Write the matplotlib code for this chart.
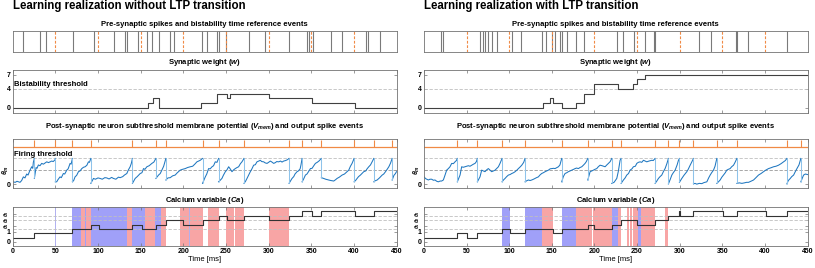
import numpy as np
import matplotlib
matplotlib.use("Agg")
import matplotlib.pyplot as plt

plt.rcParams["font.family"] = ["Liberation Sans", "DejaVu Sans"]
plt.rcParams["font.weight"] = "bold"
plt.rcParams["mathtext.fontset"] = "custom"
plt.rcParams["mathtext.it"] = "Liberation Sans:italic:bold"
plt.rcParams["mathtext.rm"] = "Liberation Sans:bold"
plt.rcParams["mathtext.bf"] = "Liberation Sans:bold"

T_END = 450
BIST_EVENTS = [50, 100, 150, 200, 250, 300, 350, 400]
THETA_M = 0.54
V_THR = 1.0

# ---------------- left: without LTP transition ----------------
PRE_L = [12.5, 31.7, 39.1, 70.4, 95.8, 119.3, 131.8, 133.8, 146.7, 158, 163.9,
         171.4, 185, 189.7, 221.4, 227.7, 239.5, 242.2, 250.4, 276.6, 296.2,
         323.6, 345.1, 347, 351.7, 373.7, 386.2, 414, 416.8, 431.2]
POST_L = [25.4, 50, 70, 91.6, 140.4, 167.9, 179.6, 222.6, 241.4, 271.2, 324,
          339.3, 361.9, 400.3, 423.4, 444.9]
W_L_T = [0, 158.4, 164.3, 171, 221, 239.5, 251.2, 255, 300, 351, 401]
W_L_V = [0, 1, 2, 0, 1, 3, 2, 3, 2, 1, 0]
CA_L_T = [0, 25.4, 70, 91.6, 101.4, 140.4, 151.4, 167.9, 179.6, 200, 222.6,
          241.4, 251, 271.2, 300, 324, 339.3, 351, 361.9, 401, 423.4]
CA_L_V = [1, 2, 3, 4, 3, 4, 3, 4, 5, 4, 5, 6, 5, 6, 5, 6, 7, 6, 7, 6, 7]
LTD_L = [(70, 80.2), (84.5, 85.7), (91.6, 134.2), (140.4, 155.3), (167.1, 174.1)]
LTP_L = [(80.2, 84.5), (85.7, 91.6), (134.2, 140.4), (155.3, 167.1), (174.1, 179.6),
         (196.4, 222.6), (228.5, 241.8), (250.4, 259), (260.2, 271.2), (300.1, 324)]
LTD_LINES_L = [50, 206.6]

VM_L_T = [0, 3, 5, 8.6, 10.5, 12.5, 14.4, 16.4, 18, 20.3, 22.3, 23.5, 24.2, 25.4,
          25.4, 27.4, 28.5, 30.1, 32, 34, 36, 39.9, 42, 45.7, 47.5, 49.7, 50,
          50, 51.6, 53, 55.5, 57, 59.4, 61, 63.4, 65, 67.3, 68.5, 70,
          70, 71.5, 73.1, 75, 77.1, 79, 81, 83, 84.9, 87, 88.8, 90, 91.6,
          91.6, 94.7, 97, 100, 102.5, 105, 108, 110.3, 113, 116, 118.1, 121, 124,
          126, 129, 131, 133.8, 135.5, 137.7, 139, 140.4,
          140.4, 143.6, 146, 149.5, 151.5, 153.4, 155, 157.3, 160, 163.2, 165.5, 167.9,
          167.9, 171, 173, 174.9, 177, 179.6,
          179.6, 182, 184.7, 187.5, 190.5, 193, 196.4, 199, 202.3, 205, 208.2, 211,
          213.5, 216, 218, 219.9, 222.6,
          222.6, 225.8, 227.5, 229.7, 231.5, 233.7, 235.5, 237.5, 239.5, 241.4,
          241.4, 243, 245.3, 247, 249.3, 251, 253.2, 255, 257.1, 259, 261, 263,
          264.9, 267, 268.8, 271.2,
          271.2, 273, 274.7, 276.5, 278.6, 280.5, 282.5, 284.5, 286.4, 288.5, 290.3,
          292, 294.3, 296, 298.2, 300, 302.1, 304, 306, 308, 309.5, 311.9, 314,
          315.8, 317.7, 320, 322, 324,
          324, 325.5, 327.5, 329.5, 331, 333.4, 335, 337, 338, 339.3,
          339.3, 341, 343.2, 345, 347, 349.1, 351, 353, 354.9, 357, 359, 361.9,
          361.9, 364.6, 367, 370.5, 373, 376.4, 378.5, 380.3, 383, 386.2, 389, 392,
          394, 396, 397.9, 400.3,
          400.3, 402, 403.8, 405.5, 407.7, 409.5, 411.6, 414, 415.5, 417.5, 419.5,
          421.4, 423.4,
          423.4, 425, 427.3, 430, 433.2, 435, 437.1, 439, 441, 443, 444.9,
          444.9, 447, 448.8, 450]
VM_L_V = [0.10, 0.08, 0.12, 0.08, 0.15, 0.29, 0.25, 0.40, 0.36, 0.55, 0.68, 0.62, 0.85, 1.0,
          0.23, 0.65, 0.62, 0.75, 0.72, 0.81, 0.78, 0.87, 0.84, 0.90, 0.88, 0.95, 1.0,
          0.10, 0.10, 0.18, 0.29, 0.26, 0.42, 0.40, 0.55, 0.60, 0.81, 0.78, 1.0,
          0.10, 0.15, 0.29, 0.35, 0.49, 0.52, 0.61, 0.66, 0.68, 0.74, 0.87, 0.85, 1.0,
          0.04, 0.23, 0.20, 0.25, 0.23, 0.20, 0.26, 0.25, 0.21, 0.27, 0.23, 0.20, 0.28,
          0.26, 0.30, 0.36, 0.42, 0.55, 0.68, 0.80, 1.0,
          0.04, 0.23, 0.30, 0.42, 0.45, 0.61, 0.58, 0.68, 0.72, 0.81, 0.86, 1.0,
          0.23, 0.36, 0.42, 0.55, 0.70, 1.0,
          0.17, 0.25, 0.26, 0.33, 0.36, 0.45, 0.55, 0.58, 0.61, 0.65, 0.68, 0.70,
          0.78, 0.87, 0.90, 0.93, 1.0,
          0.04, 0.29, 0.40, 0.61, 0.60, 0.68, 0.72, 0.87, 0.85, 1.0,
          0.10, 0.15, 0.23, 0.35, 0.49, 0.55, 0.68, 0.60, 0.49, 0.56, 0.61, 0.65,
          0.68, 0.80, 0.87, 1.0,
          0.04, 0.12, 0.23, 0.35, 0.49, 0.60, 0.74, 0.76, 0.87, 0.90, 0.93,
          0.88, 0.87, 0.83, 0.81, 0.85, 0.90, 0.86, 0.81, 0.84, 0.88, 0.87, 0.90,
          0.86, 0.90, 0.92, 0.95, 1.0,
          0.04, 0.12, 0.23, 0.30, 0.40, 0.49, 0.52, 0.60, 0.75, 1.0,
          0.10, 0.20, 0.36, 0.40, 0.50, 0.61, 0.62, 0.72, 0.81, 0.85, 0.90, 1.0,
          0.26, 0.23, 0.20, 0.17, 0.15, 0.13, 0.18, 0.23, 0.28, 0.36, 0.40, 0.49,
          0.55, 0.70, 0.81, 1.0,
          0.10, 0.15, 0.23, 0.30, 0.36, 0.42, 0.49, 0.52, 0.60, 0.68, 0.75,
          0.87, 1.0,
          0.10, 0.14, 0.17, 0.25, 0.36, 0.40, 0.49, 0.58, 0.68, 0.82, 1.0,
          0.17, 0.35, 0.42, 0.49]

# ---------------- right: with LTP transition ----------------
PRE_R = [20.4, 22.7, 65.4, 69.6, 71.2, 74.8, 79.8, 85.3, 103.7, 113.9, 138.5,
         143.6, 150.7, 153.4, 160.1, 162, 167.9, 178.8, 187.5, 226.6, 233.2,
         246.2, 259.8, 270, 271.6, 323.2, 336.9, 366.3, 367.8, 380, 425.8]
POST_R = [39.1, 62.6, 91.6, 118.6, 161.6, 192.2, 220.3, 231.3, 271.2, 286.8,
          299.7, 316.2, 343.6, 367.1, 425.8, 442.2]
W_R_T = [0, 139.3, 148, 151, 162.4, 178.4, 187.8, 200, 228, 245.7, 250.4, 259.5]
W_R_V = [0, 1, 2, 1, 0, 1, 3, 5, 4, 5, 6, 7]
CA_R_T = [0, 39.1, 50.1, 62.6, 91.6, 101, 118.6, 151, 161.6, 192.2, 199.6, 220.3,
          231.3, 249.7, 271.2, 286.8, 299.7, 300.6, 316.2, 350.7, 367.1, 401.5, 425.8]
CA_R_V = [1, 2, 1, 2, 3, 2, 3, 2, 3, 4, 3, 4, 5, 4, 5, 6, 7, 6, 7, 6, 7, 6, 7]
LTD_R = [(91.6, 101), (118.6, 138.9), (161.6, 178.1), (220.3, 228.1), (251.6, 254.7)]
LTP_R = [(138.9, 151.1), (178.1, 196.8), (198, 220.3), (228.1, 231.3), (238, 240.7),
         (241.8, 244.6), (245.7, 251.6), (254.7, 271.2), (283, 286.8)]
LTD_LINES_R = []

VM_R_T = [0, 2, 5.1, 7, 9, 11, 12.9, 15, 16.8, 19, 20.7, 22.7, 24.7, 26.6, 28.6,
          30.5, 32.5, 34.5, 36.4, 38, 39.1,
          39.1, 42.3, 44.2, 46, 48.1, 50, 52.1, 54, 56, 58, 59.9, 61.5, 62.6,
          62.6, 65.7, 67.7, 69.5, 71.6, 73.5, 75.5, 77.5, 79.4, 81.5, 83.4, 85.5,
          87.3, 89.2, 91.6,
          91.6, 93.5, 95.1, 97, 99, 101, 103, 105, 106.9, 109, 110.8, 113, 114.7,
          117, 118.6,
          118.6, 120.5, 122.5, 124.5, 126.4, 128.5, 130.3, 132, 134.2, 136, 138.1,
          140, 142.1, 144, 146, 148, 149.9, 152, 153.8, 156, 157.7, 159.5, 161.6,
          161.6, 163.5, 165.5, 167.5, 169.4, 171.5, 173.4, 175.5, 177.3, 179, 181.2,
          183, 185.1, 187, 189, 190.5, 192.2,
          192.2, 194.9, 197, 198.8, 200.5, 202.7, 204.5, 206.6, 209, 212.5, 214.5,
          216.4, 218.5, 220.3,
          220.3, 223, 226.2, 228, 230.1, 231.3,
          231.3, 234, 236, 237.9, 240, 241.8, 244, 245.7, 248, 249.7, 251.5, 253.6,
          255.5, 257.5, 259.5, 261.4, 264, 267.3, 269, 271.2,
          271.2, 273, 275.1, 277, 279, 281, 282.9, 285, 286.8,
          286.8, 289, 290.8, 292.5, 294.7, 297, 298.6, 299.7,
          299.7, 302.5, 305, 308.4, 310, 312.3, 314, 316.2,
          316.2, 318, 320.1, 323, 326, 328.5, 331.9, 334, 335.8, 337.5, 339.7, 341.5,
          343.6,
          343.6, 345.5, 347.5, 349.5, 351.4, 353.5, 355.3, 357, 359.2, 361, 363.2,
          365, 367.1,
          367.1, 370, 373, 376, 378.5, 380.8, 383.5, 386.7, 389.5, 392.5, 395.5,
          398.4, 401, 404.3, 407, 410.2, 413, 416, 419, 421.9, 424, 425.8,
          425.8, 427.5, 429.8, 431.5, 433.7, 435.5, 437.6, 440, 442.2,
          442.2, 444, 445.4, 447.5, 450]
VM_R_V = [0.29, 0.22, 0.17, 0.20, 0.20, 0.16, 0.17, 0.12, 0.10, 0.13, 0.13, 0.17, 0.36,
          0.55, 0.61, 0.68, 0.81, 0.80, 0.87, 0.92, 1.0,
          0.10, 0.36, 0.68, 0.66, 0.68, 0.70, 0.72, 0.70, 0.74, 0.78, 0.81, 0.88, 1.0,
          0.10, 0.29, 0.55, 0.52, 0.49, 0.56, 0.61, 0.55, 0.49, 0.52, 0.55, 0.62,
          0.68, 0.81, 1.0,
          0.10, 0.18, 0.23, 0.30, 0.36, 0.38, 0.42, 0.45, 0.49, 0.55, 0.61, 0.68,
          0.74, 0.85, 1.0,
          0.10, 0.14, 0.17, 0.15, 0.17, 0.20, 0.23, 0.26, 0.29, 0.36, 0.42,
          0.45, 0.49, 0.52, 0.55, 0.60, 0.61, 0.62, 0.61, 0.65, 0.68, 0.75, 1.0,
          0.10, 0.30, 0.42, 0.45, 0.49, 0.52, 0.55, 0.58, 0.61, 0.63, 0.61,
          0.65, 0.68, 0.74, 0.81, 0.88, 1.0,
          0.17, 0.49, 0.52, 0.55, 0.58, 0.61, 0.68, 0.74, 0.72, 0.68, 0.75,
          0.81, 0.88, 1.0,
          0.04, 0.08, 0.23, 0.50, 0.93, 1.0,
          0.04, 0.17, 0.25, 0.36, 0.42, 0.55, 0.60, 0.68, 0.70, 0.81, 0.85, 0.87,
          0.85, 0.93, 0.90, 0.87, 0.90, 0.93, 0.92, 1.0,
          0.04, 0.12, 0.23, 0.30, 0.36, 0.50, 0.61, 0.80, 1.0,
          0.02, 0.20, 0.36, 0.45, 0.55, 0.75, 0.93, 1.0,
          0.08, 0.23, 0.35, 0.49, 0.58, 0.74, 0.85, 1.0,
          0.02, 0.04, 0.01, 0.04, 0.03, 0.07, 0.10, 0.25, 0.36, 0.45, 0.55, 0.70,
          1.0,
          0.04, 0.10, 0.17, 0.28, 0.36, 0.45, 0.55, 0.58, 0.61, 0.68, 0.74,
          0.85, 1.0,
          0.04, 0.06, 0.04, 0.06, 0.08, 0.08, 0.12, 0.17, 0.26, 0.36, 0.42,
          0.49, 0.55, 0.61, 0.64, 0.68, 0.70, 0.74, 0.80, 0.87, 0.92, 1.0,
          0.02, 0.15, 0.23, 0.30, 0.36, 0.48, 0.61, 0.75, 1.0,
          0.10, 0.25, 0.36, 0.40, 0.38]

CA_TICKS = [0, 2.3, 3.7, 5.1, 6.5]
CA_TICK_LABELS = ["0", "1", r"$\theta_1$", r"$\theta_2$", r"$\theta_3$"]
CA_LEVELS = [3, 5, 6]

ORANGE = "#f08a45"
BLUE = "#1f77c0"
LIGHT_BLUE = "#8ec3ea"
FRAME = "0.45"
FIG_W, FIG_H = 815, 268


def px_axes(fig, x0, x1, y0, y1):
    return fig.add_axes([x0 / FIG_W, 1 - y1 / FIG_H, (x1 - x0) / FIG_W, (y1 - y0) / FIG_H])


def style(ax):
    for s in ax.spines.values():
        s.set_color(FRAME)
        s.set_linewidth(0.6)
    ax.tick_params(direction="in", length=2, width=0.5, color=FRAME, labelsize=5,
                   top=True, right=True, pad=1.5)
    ax.set_xlim(0, T_END)
    ax.set_xticks(np.arange(0, T_END + 1, 50))


def draw_panel(fig, x0, x1, title, pre, post, w_t, w_v, vm_t, vm_v,
               ca_t, ca_v, ltd, ltp, ltd_lines, labels):
    xc = (x0 + x1) / 2 / FIG_W
    fig.text(x0 / FIG_W, 1 - 6.5 / FIG_H, title, fontsize=8.3, ha="left", va="center")

    # pre-synaptic raster
    fig.text(xc, 1 - 24 / FIG_H, "Pre-synaptic spikes and bistability time reference events",
             fontsize=5.5, ha="center", va="center")
    ax = px_axes(fig, x0, x1, 30.5, 52.3)
    style(ax)
    ax.vlines(pre, 0, 1, color="0.3", lw=0.8, alpha=0.75)
    ax.vlines(BIST_EVENTS, 0, 1, color=ORANGE, lw=0.8, linestyles=(0, (2.5, 1.5)))
    ax.set_ylim(0, 1)
    ax.set_xticks([])
    ax.set_yticks([])

    # synaptic weight
    fig.text(xc, 1 - 63 / FIG_H, r"Synaptic weight ($w$)", fontsize=5.5, ha="center", va="center")
    ax = px_axes(fig, x0, x1, 70, 112.7)
    style(ax)
    ax.axhline(4, color="0.75", ls=(0, (4, 2)), lw=0.6)
    ax.step(list(w_t) + [T_END], list(w_v) + [w_v[-1]], where="post", color="0.25", lw=0.8)
    ax.set_ylim(-1, 8)
    ax.set_yticks([0, 4, 7])
    ax.set_xticklabels([])
    if labels:
        ax.text(2, 4.15, "Bistability threshold", fontsize=5.5, va="bottom", ha="left")

    # membrane potential
    fig.text(xc, 1 - 126 / FIG_H,
             r"Post-synaptic neuron subthreshold membrane potential ($V_{mem}$) and output spike events",
             fontsize=5.5, ha="center", va="center")
    ax = px_axes(fig, x0, x1, 139, 188.3)
    style(ax)
    ax.axhline(V_THR, color="0.75", ls=(0, (4, 2)), lw=0.6)
    ax.axhline(THETA_M, color="0.6", ls=(0, (4, 2)), lw=0.6)
    ax.axhline(1.45, color=ORANGE, lw=0.9)
    ax.vlines(post, 1.45, 1.70, color=ORANGE, lw=0.8)
    t = np.asarray(vm_t)
    v = np.asarray(vm_v)
    cut = np.where(np.diff(t) == 0)[0] + 1
    for ts, vs in zip(np.split(t, cut), np.split(v, cut)):
        ax.plot(ts, vs, color=BLUE, lw=0.75)
    ax.vlines(t[cut], v[cut], v[cut - 1], color=LIGHT_BLUE, lw=0.75)
    ax.set_ylim(-0.15, 1.75)
    ax.set_yticks([0, THETA_M])
    ax.set_yticklabels(["0", r"$\theta_m$"])
    ax.get_yticklabels()[1].set_rotation(90)
    ax.get_yticklabels()[1].set_va("center")
    ax.set_xticklabels([])
    if labels:
        ax.text(2, V_THR + 0.03, "Firing threshold", fontsize=5.5, va="bottom", ha="left")

    # calcium
    fig.text(xc, 1 - 201 / FIG_H, r"Calcium variable ($Ca$)", fontsize=5.5, ha="center", va="center")
    ax = px_axes(fig, x0, x1, 206.7, 245.7)
    style(ax)
    for a, b in ltd:
        ax.axvspan(a, b, color="#a0a0f8", lw=0)
    for a, b in ltp:
        ax.axvspan(a, b, color="#f8a5a5", lw=0)
    for x in ltd_lines:
        ax.axvline(x, color="#b0b0f0", lw=0.7)
    for lvl in CA_LEVELS:
        ax.axhline(lvl, color="0.75", ls=(0, (4, 2)), lw=0.6)
    ax.step(list(ca_t) + [T_END], list(ca_v) + [ca_v[-1]], where="post", color="0.2", lw=0.8)
    ax.set_ylim(-0.8, 8.05)
    ax.set_yticks(CA_TICKS)
    ax.set_yticklabels(CA_TICK_LABELS)
    for i, lab in enumerate(ax.get_yticklabels()):
        lab.set_va("center")
        if i >= 2:
            lab.set_rotation(90)
            lab.set_fontsize(3.8)
    ax.set_xlabel("Time [ms]", fontsize=5.5, labelpad=1)


fig = plt.figure(figsize=(FIG_W / 100, FIG_H / 100), dpi=100)
draw_panel(fig, 12.7, 396.5, "Learning realization without LTP transition",
           PRE_L, POST_L, W_L_T, W_L_V, VM_L_T, VM_L_V, CA_L_T, CA_L_V,
           LTD_L, LTP_L, LTD_LINES_L, True)
draw_panel(fig, 424, 807.5, "Learning realization with LTP transition",
           PRE_R, POST_R, W_R_T, W_R_V, VM_R_T, VM_R_V, CA_R_T, CA_R_V,
           LTD_R, LTP_R, LTD_LINES_R, False)
fig.savefig("out.png", dpi=100)
